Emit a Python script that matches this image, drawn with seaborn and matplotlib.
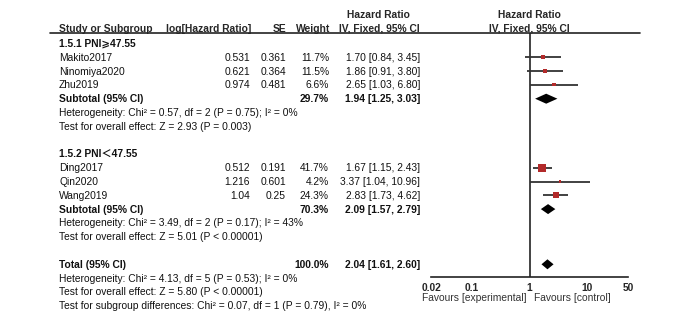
import matplotlib
matplotlib.use("Agg")
import matplotlib.pyplot as plt
from matplotlib.ticker import FixedLocator, FixedFormatter, NullLocator
import pandas as pd
import seaborn as sns

# 데이터
studies = ["Makito2017", "Ninomiya2020", "Zhu2019", "Ding2017", "Qin2020", "Wang2019"]
groups = ["1.5.1 PNI⩾47.55", "1.5.2 PNI＜47.55"]
study_group = [0, 0, 0, 1, 1, 1]
log_hr = [0.531, 0.621, 0.974, 0.512, 1.216, 1.04]
se = [0.361, 0.364, 0.481, 0.191, 0.601, 0.25]
weight = [11.7, 11.5, 6.6, 41.7, 4.2, 24.3]
hr = [1.70, 1.86, 2.65, 1.67, 3.37, 2.83]
hr_lo = [0.84, 0.91, 1.03, 1.15, 1.04, 1.73]
hr_hi = [3.45, 3.80, 6.80, 2.43, 10.96, 4.62]

sub_weight = [29.7, 70.3]
sub_hr = [1.94, 2.09]
sub_lo = [1.25, 1.57]
sub_hi = [3.03, 2.79]
sub_het = ["Heterogeneity: Chi² = 0.57, df = 2 (P = 0.75); I² = 0%",
           "Heterogeneity: Chi² = 3.49, df = 2 (P = 0.17); I² = 43%"]
sub_test = ["Test for overall effect: Z = 2.93 (P = 0.003)",
            "Test for overall effect: Z = 5.01 (P < 0.00001)"]

tot_weight = 100.0
tot_hr = 2.04
tot_lo = 1.61
tot_hi = 2.60
tot_notes = ["Heterogeneity: Chi² = 4.13, df = 5 (P = 0.53); I² = 0%",
             "Test for overall effect: Z = 5.80 (P < 0.00001)",
             "Test for subgroup differences: Chi² = 0.07, df = 1 (P = 0.79), I² = 0%"]

ticks = [0.02, 0.1, 1, 10, 50]
tick_labels = ["0.02", "0.1", "1", "10", "50"]

sns.set_style("white")
plt.rcParams['font.family'] = ['Liberation Sans', 'DejaVu Sans', 'Noto Sans CJK SC']
FS = 7.4
RED = "#b22a2a"
W, H = 700, 322

fig = plt.figure(figsize=(7, 3.22), dpi=100)

# 텍스트용 축 (픽셀 좌표)
tab = fig.add_axes([0, 0, 1, 1])
tab.set_xlim(0, W)
tab.set_ylim(H, 0)
tab.axis("off")

# 포레스트 플롯 축
x0, x1, y_top, y_axis = 431, 628, 33, 277
ax = fig.add_axes([x0 / W, (H - y_axis) / H, (x1 - x0) / W, (y_axis - y_top) / H])
ax.set_xscale("log")
ax.set_xlim(0.02, 50)
ax.set_ylim(y_axis, y_top)


def row_y(i):
    return 43.5 + 13.8 * i


def put(x, i, s, ha="left", bold=False, color="#111111"):
    tab.text(x, row_y(i) + 3.4, s, ha=ha, va="baseline", fontsize=FS,
             fontweight="bold" if bold else "normal", color=color)


# 헤더
tab.text(378, 18, "Hazard Ratio", ha="center", va="baseline", fontsize=FS, fontweight="bold")
tab.text(529, 18, "Hazard Ratio", ha="center", va="baseline", fontsize=FS, fontweight="bold")
hy = 31.5
tab.text(59, hy, "Study or Subgroup", ha="left", va="baseline", fontsize=FS, fontweight="bold")
tab.text(251, hy, "log[Hazard Ratio]", ha="right", va="baseline", fontsize=FS, fontweight="bold")
tab.text(286, hy, "SE", ha="right", va="baseline", fontsize=FS, fontweight="bold")
tab.text(330, hy, "Weight", ha="right", va="baseline", fontsize=FS, fontweight="bold")
tab.text(379, hy, "IV, Fixed, 95% CI", ha="center", va="baseline", fontsize=FS, fontweight="bold")
tab.text(529, hy, "IV, Fixed, 95% CI", ha="center", va="baseline", fontsize=FS, fontweight="bold")
tab.plot([50, 640], [33, 33], color="#222222", lw=1.2)

# 행 배치
study_rows = []
sub_rows = []
i = 0
for g in range(len(groups)):
    put(59, i, groups[g], bold=True)
    i += 1
    for k in range(len(studies)):
        if study_group[k] != g:
            continue
        put(59, i, studies[k])
        put(250, i, str(log_hr[k]), ha="right")
        put(286, i, str(se[k]), ha="right")
        put(329, i, f"{weight[k]:.1f}%", ha="right")
        put(420, i, f"{hr[k]:.2f} [{hr_lo[k]:.2f}, {hr_hi[k]:.2f}]", ha="right")
        study_rows.append(row_y(i))
        i += 1
    put(59, i, "Subtotal (95% CI)", bold=True)
    put(329, i, f"{sub_weight[g]:.1f}%", ha="right", bold=True)
    put(420, i, f"{sub_hr[g]:.2f} [{sub_lo[g]:.2f}, {sub_hi[g]:.2f}]", ha="right", bold=True)
    sub_rows.append(row_y(i))
    i += 1
    put(59, i, sub_het[g])
    i += 1
    put(59, i, sub_test[g])
    i += 2

put(59, i, "Total (95% CI)", bold=True)
put(329, i, f"{tot_weight:.1f}%", ha="right", bold=True)
put(420, i, f"{tot_hr:.2f} [{tot_lo:.2f}, {tot_hi:.2f}]", ha="right", bold=True)
tot_row = row_y(i)
i += 1
for note in tot_notes:
    put(59, i, note)
    i += 1

# 기준선
ax.axvline(1, color="#222222", lw=1.2)

# 신뢰구간
ax.hlines(study_rows, hr_lo, hr_hi, color="#333333", lw=1.3)

# 가중치 사각형
df = pd.DataFrame({"hr": hr, "y": study_rows, "w": weight})
sns.scatterplot(data=df, x="hr", y="y", size="w", sizes=(0, 33), size_norm=(0, 41.7),
                marker="s", color=RED, edgecolor="none", legend=False, ax=ax, zorder=3)
ax.set_xlabel("")
ax.set_ylabel("")

# 다이아몬드
dh = 5
for lo_, est, hi_, yy in zip(sub_lo + [tot_lo], sub_hr + [tot_hr], sub_hi + [tot_hi], sub_rows + [tot_row]):
    ax.fill([lo_, est, hi_, est], [yy, yy - dh, yy, yy + dh], color="black", lw=0, zorder=4)

# 축 스타일
for sp in ["top", "left", "right"]:
    ax.spines[sp].set_visible(False)
ax.spines["bottom"].set_color("#222222")
ax.spines["bottom"].set_linewidth(1.2)
ax.xaxis.set_major_locator(FixedLocator(ticks))
ax.xaxis.set_major_formatter(FixedFormatter(tick_labels))
ax.xaxis.set_minor_locator(NullLocator())
ax.tick_params(axis="x", direction="inout", length=7, width=1.2, color="#222222",
               labelsize=FS, pad=1.0)
for t in ax.get_xticklabels():
    t.set_fontweight("bold")
ax.set_yticks([])
ax.patch.set_alpha(0)

tab.text(526, 301, "Favours [experimental]", ha="right", va="baseline", fontsize=FS, color="#333333")
tab.text(534, 301, "Favours [control]", ha="left", va="baseline", fontsize=FS, color="#333333")

fig.savefig("out.png", dpi=100)
